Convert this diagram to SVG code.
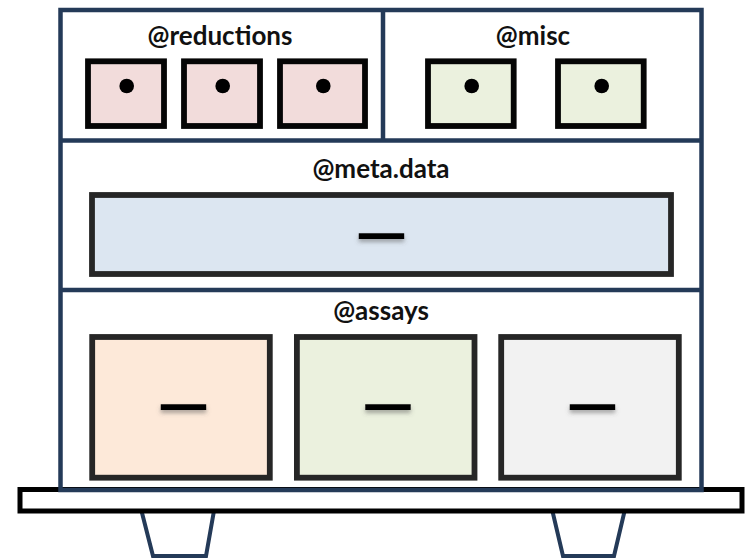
<svg xmlns="http://www.w3.org/2000/svg" width="753" height="559" viewBox="0 0 753 559">
<style>
.frame{fill:none;stroke:#243a58;stroke-width:4.5}
.box{stroke:#262626;stroke-width:5.8}
.blk{stroke:#050505}
.lbl{font-family:Lato,"Liberation Sans",sans-serif;font-weight:700;font-size:26px;fill:#111;text-anchor:middle}
.dash{font-family:Lato,"Liberation Sans",sans-serif;font-weight:700;font-size:67px;fill:#000;text-anchor:middle;filter:url(#sh)}
.dot{fill:#000}
.leg{fill:#fff;stroke:#243a58;stroke-width:4}
</style>
<defs>
<filter id="sh" x="-30%" y="-50%" width="160%" height="200%">
<feDropShadow dx="0" dy="3" stdDeviation="2" flood-color="#555" flood-opacity="0.5"/>
</filter>
</defs>
<rect width="753" height="559" fill="#fff"/>
<g id="stand">
<polygon class="leg" points="140,505 215,505 206,556 153,556"/>
<polygon class="leg" points="551,505 626,505 614,556 563,556"/>
<rect x="20" y="489.5" width="722" height="21.5" fill="#fff" stroke="#000" stroke-width="5"/>
</g>
<g id="frame">
<rect x="60.5" y="10" width="641" height="480" fill="#fff" class="frame"/>
<line class="frame" x1="60.5" y1="140.5" x2="701.5" y2="140.5"/>
<line class="frame" x1="60.5" y1="290" x2="701.5" y2="290"/>
<line class="frame" x1="383" y1="10" x2="383" y2="140.5"/>
</g>
<g id="reductions">
<text class="lbl" x="220" y="45">@reductions</text>
<rect class="box blk" x="88" y="61.3" width="76" height="64.7" fill="#f2dcdb"/>
<rect class="box blk" x="184" y="61.3" width="76" height="64.7" fill="#f2dcdb"/>
<rect class="box blk" x="280" y="61.3" width="85" height="64.7" fill="#f2dcdb"/>
<circle class="dot" cx="126.7" cy="86" r="7.3"/>
<circle class="dot" cx="222.7" cy="86" r="7.3"/>
<circle class="dot" cx="323.3" cy="86" r="7.3"/>
</g>
<g id="misc">
<text class="lbl" x="533" y="45">@misc</text>
<rect class="box blk" x="428" y="61.3" width="85.7" height="64.7" fill="#ebf1de"/>
<rect class="box blk" x="558" y="61.3" width="85.7" height="64.7" fill="#ebf1de"/>
<circle class="dot" cx="471.7" cy="86" r="7.3"/>
<circle class="dot" cx="601.7" cy="86" r="7.3"/>
</g>
<g id="meta.data">
<text class="lbl" x="381" y="178">@meta.data</text>
<rect class="box" x="92" y="195" width="579" height="79" fill="#dce6f1"/>
<text class="dash" x="381.5" y="255.6">—</text>
</g>
<g id="assays">
<text class="lbl" x="381" y="320">@assays</text>
<rect class="box" x="92.2" y="337" width="177.6" height="140.7" fill="#fde9d9"/>
<rect class="box" x="296.9" y="337" width="177.6" height="140.7" fill="#ebf1de"/>
<rect class="box" x="501.2" y="337" width="177.6" height="140.7" fill="#f2f2f2"/>
<text class="dash" x="183.5" y="426.6">—</text>
<text class="dash" x="388" y="426.6">—</text>
<text class="dash" x="592.5" y="426.6">—</text>
</g>
</svg>
